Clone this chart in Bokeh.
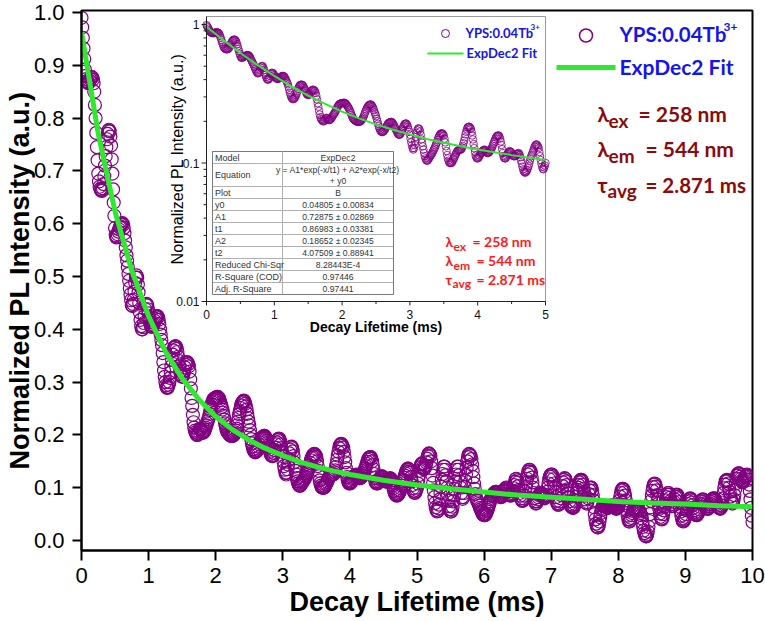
import math
import numpy as np
from bokeh.plotting import figure
from bokeh.models import Range1d, LogScale, Label, FixedTicker, NumeralTickFormatter
from bokeh.core.properties import value
from bokeh.embed import file_html
from bokeh.resources import INLINE

# ---------------- data ----------------
t_start = 0.0
t_step = 0.01
pl_values = [
    0.990, 0.972, 0.952, 0.932, 0.912, 0.892, 0.880, 0.874, 0.870, 0.868,
    0.866, 0.867, 0.871, 0.874, 0.876, 0.878, 0.877, 0.873, 0.866, 0.850,
    0.825, 0.800, 0.772, 0.745, 0.720, 0.695, 0.680, 0.670, 0.666, 0.664,
    0.662, 0.663, 0.667, 0.675, 0.690, 0.710, 0.728, 0.745, 0.760, 0.770,
    0.776, 0.778, 0.775, 0.765, 0.748, 0.722, 0.695, 0.665, 0.640, 0.615,
    0.592, 0.578, 0.574, 0.576, 0.580, 0.585, 0.589, 0.593, 0.595, 0.598,
    0.600, 0.601, 0.598, 0.592, 0.582, 0.568, 0.555, 0.540, 0.530, 0.518,
    0.505, 0.492, 0.478, 0.466, 0.455, 0.446, 0.444, 0.448, 0.456, 0.472,
    0.488, 0.498, 0.502, 0.498, 0.485, 0.470, 0.450, 0.432, 0.418, 0.406,
    0.400, 0.400, 0.404, 0.412, 0.425, 0.438, 0.446, 0.448, 0.446, 0.438,
    0.430, 0.422, 0.414, 0.408, 0.405, 0.405, 0.406, 0.409, 0.412, 0.416,
    0.420, 0.423, 0.425, 0.425, 0.423, 0.418, 0.410, 0.400, 0.390, 0.380,
    0.370, 0.355, 0.338, 0.322, 0.310, 0.300, 0.294, 0.290, 0.289, 0.291,
    0.295, 0.300, 0.308, 0.318, 0.330, 0.342, 0.352, 0.360, 0.365, 0.367,
    0.368, 0.367, 0.363, 0.357, 0.348, 0.340, 0.330, 0.321, 0.315, 0.311,
    0.310, 0.311, 0.315, 0.321, 0.328, 0.333, 0.337, 0.338, 0.337, 0.334,
    0.330, 0.320, 0.305, 0.288, 0.270, 0.255, 0.238, 0.224, 0.214, 0.208,
    0.205, 0.202, 0.200, 0.200, 0.203, 0.207, 0.211, 0.212, 0.210, 0.207,
    0.205, 0.204, 0.205, 0.207, 0.210, 0.214, 0.218, 0.222, 0.226, 0.230,
    0.234, 0.240, 0.247, 0.253, 0.258, 0.262, 0.266, 0.268, 0.269, 0.270,
    0.270, 0.271, 0.272, 0.272, 0.271, 0.269, 0.266, 0.261, 0.257, 0.253,
    0.248, 0.242, 0.236, 0.229, 0.222, 0.216, 0.210, 0.207, 0.205, 0.203,
    0.202, 0.200, 0.199, 0.198, 0.198, 0.198, 0.199, 0.200, 0.202, 0.205,
    0.208, 0.212, 0.218, 0.225, 0.232, 0.239, 0.245, 0.251, 0.256, 0.260,
    0.262, 0.264, 0.265, 0.263, 0.259, 0.254, 0.248, 0.240, 0.232, 0.225,
    0.218, 0.209, 0.200, 0.192, 0.184, 0.178, 0.173, 0.170, 0.168, 0.167,
    0.168, 0.169, 0.171, 0.174, 0.178, 0.182, 0.186, 0.190, 0.193, 0.195,
    0.196, 0.197, 0.198, 0.198, 0.196, 0.193, 0.189, 0.185, 0.180, 0.176,
    0.172, 0.168, 0.164, 0.161, 0.160, 0.160, 0.162, 0.166, 0.171, 0.176,
    0.182, 0.186, 0.190, 0.192, 0.193, 0.192, 0.188, 0.182, 0.175, 0.168,
    0.160, 0.150, 0.141, 0.134, 0.128, 0.125, 0.128, 0.135, 0.144, 0.154,
    0.165, 0.172, 0.177, 0.178, 0.175, 0.169, 0.160, 0.148, 0.140, 0.132,
    0.125, 0.118, 0.112, 0.108, 0.105, 0.104, 0.104, 0.106, 0.108, 0.110,
    0.112, 0.114, 0.116, 0.118, 0.121, 0.124, 0.127, 0.130, 0.134, 0.138,
    0.142, 0.147, 0.152, 0.156, 0.159, 0.162, 0.163, 0.164, 0.163, 0.161,
    0.158, 0.150, 0.141, 0.132, 0.122, 0.114, 0.108, 0.104, 0.101, 0.100,
    0.100, 0.100, 0.101, 0.103, 0.106, 0.108, 0.111, 0.114, 0.117, 0.119,
    0.122, 0.123, 0.124, 0.124, 0.125, 0.125, 0.126, 0.129, 0.133, 0.139,
    0.145, 0.153, 0.161, 0.168, 0.175, 0.180, 0.182, 0.183, 0.182, 0.179,
    0.176, 0.168, 0.158, 0.148, 0.137, 0.128, 0.120, 0.113, 0.110, 0.108,
    0.108, 0.109, 0.111, 0.113, 0.116, 0.118, 0.120, 0.122, 0.123, 0.124,
    0.125, 0.124, 0.122, 0.120, 0.118, 0.118, 0.119, 0.120, 0.122, 0.124,
    0.126, 0.129, 0.133, 0.137, 0.141, 0.145, 0.149, 0.153, 0.156, 0.157,
    0.158, 0.158, 0.155, 0.150, 0.143, 0.135, 0.126, 0.118, 0.112, 0.109,
    0.108, 0.108, 0.110, 0.113, 0.116, 0.118, 0.120, 0.122, 0.121, 0.120,
    0.118, 0.115, 0.113, 0.112, 0.112, 0.112, 0.113, 0.115, 0.116, 0.117,
    0.118, 0.117, 0.114, 0.110, 0.104, 0.099, 0.094, 0.090, 0.087, 0.086,
    0.085, 0.086, 0.087, 0.089, 0.092, 0.095, 0.099, 0.104, 0.108, 0.112,
    0.115, 0.119, 0.123, 0.127, 0.131, 0.134, 0.136, 0.136, 0.134, 0.131,
    0.128, 0.120, 0.112, 0.105, 0.099, 0.094, 0.091, 0.090, 0.093, 0.096,
    0.100, 0.108, 0.116, 0.124, 0.132, 0.139, 0.144, 0.146, 0.144, 0.139,
    0.135, 0.136, 0.138, 0.142, 0.148, 0.155, 0.160, 0.164, 0.165, 0.163,
    0.160, 0.150, 0.137, 0.123, 0.109, 0.095, 0.082, 0.071, 0.063, 0.058,
    0.055, 0.056, 0.061, 0.068, 0.078, 0.090, 0.102, 0.115, 0.126, 0.134,
    0.140, 0.140, 0.134, 0.124, 0.112, 0.100, 0.088, 0.075, 0.065, 0.059,
    0.055, 0.055, 0.058, 0.064, 0.074, 0.085, 0.098, 0.112, 0.125, 0.134,
    0.140, 0.140, 0.134, 0.124, 0.112, 0.100, 0.090, 0.082, 0.079, 0.082,
    0.090, 0.101, 0.113, 0.125, 0.138, 0.150, 0.158, 0.163, 0.164, 0.162,
    0.160, 0.154, 0.144, 0.132, 0.120, 0.108, 0.098, 0.088, 0.081, 0.077,
    0.075, 0.072, 0.069, 0.066, 0.062, 0.059, 0.056, 0.053, 0.050, 0.049,
    0.048, 0.048, 0.049, 0.051, 0.055, 0.058, 0.062, 0.066, 0.070, 0.074,
    0.078, 0.081, 0.084, 0.086, 0.088, 0.090, 0.091, 0.092, 0.092, 0.091,
    0.090, 0.088, 0.086, 0.084, 0.083, 0.082, 0.083, 0.086, 0.089, 0.092,
    0.095, 0.097, 0.099, 0.100, 0.099, 0.096, 0.093, 0.089, 0.087, 0.086,
    0.085, 0.087, 0.090, 0.094, 0.099, 0.105, 0.111, 0.116, 0.117, 0.114,
    0.110, 0.103, 0.096, 0.090, 0.085, 0.080, 0.077, 0.075, 0.076, 0.080,
    0.085, 0.093, 0.101, 0.109, 0.117, 0.125, 0.131, 0.134, 0.134, 0.131,
    0.128, 0.119, 0.110, 0.100, 0.090, 0.080, 0.074, 0.070, 0.071, 0.074,
    0.078, 0.082, 0.086, 0.088, 0.090, 0.090, 0.088, 0.085, 0.083, 0.081,
    0.080, 0.081, 0.083, 0.086, 0.092, 0.100, 0.108, 0.116, 0.121, 0.124,
    0.125, 0.125, 0.122, 0.116, 0.108, 0.100, 0.091, 0.082, 0.075, 0.071,
    0.068, 0.068, 0.070, 0.074, 0.080, 0.086, 0.094, 0.103, 0.110, 0.115,
    0.118, 0.117, 0.112, 0.105, 0.097, 0.089, 0.081, 0.074, 0.069, 0.066,
    0.065, 0.063, 0.062, 0.062, 0.065, 0.069, 0.075, 0.083, 0.090, 0.096,
    0.100, 0.105, 0.110, 0.113, 0.115, 0.115, 0.112, 0.106, 0.098, 0.091,
    0.085, 0.078, 0.072, 0.070, 0.073, 0.080, 0.088, 0.095, 0.099, 0.100,
    0.100, 0.094, 0.086, 0.076, 0.063, 0.050, 0.040, 0.032, 0.027, 0.025,
    0.025, 0.029, 0.036, 0.044, 0.052, 0.058, 0.062, 0.065, 0.066, 0.066,
    0.066, 0.065, 0.064, 0.063, 0.062, 0.062, 0.063, 0.064, 0.065, 0.066,
    0.066, 0.066, 0.065, 0.064, 0.063, 0.062, 0.061, 0.060, 0.061, 0.062,
    0.064, 0.069, 0.076, 0.083, 0.090, 0.095, 0.098, 0.098, 0.096, 0.091,
    0.085, 0.076, 0.066, 0.056, 0.047, 0.040, 0.036, 0.036, 0.039, 0.043,
    0.048, 0.052, 0.056, 0.059, 0.061, 0.062, 0.062, 0.061, 0.060, 0.059,
    0.058, 0.057, 0.055, 0.052, 0.048, 0.042, 0.034, 0.026, 0.019, 0.014,
    0.010, 0.008, 0.008, 0.011, 0.017, 0.026, 0.037, 0.050, 0.063, 0.075,
    0.085, 0.094, 0.101, 0.106, 0.108, 0.107, 0.102, 0.095, 0.086, 0.077,
    0.070, 0.060, 0.051, 0.045, 0.041, 0.040, 0.043, 0.050, 0.057, 0.064,
    0.070, 0.076, 0.082, 0.087, 0.090, 0.090, 0.087, 0.081, 0.075, 0.069,
    0.065, 0.066, 0.069, 0.073, 0.078, 0.083, 0.086, 0.087, 0.086, 0.083,
    0.080, 0.073, 0.064, 0.055, 0.047, 0.041, 0.037, 0.036, 0.038, 0.041,
    0.045, 0.050, 0.057, 0.063, 0.069, 0.074, 0.078, 0.080, 0.079, 0.076,
    0.072, 0.067, 0.062, 0.057, 0.053, 0.050, 0.048, 0.048, 0.050, 0.052,
    0.055, 0.059, 0.064, 0.069, 0.074, 0.077, 0.078, 0.077, 0.074, 0.071,
    0.068, 0.065, 0.062, 0.060, 0.060, 0.062, 0.065, 0.069, 0.073, 0.076,
    0.078, 0.079, 0.080, 0.080, 0.078, 0.075, 0.072, 0.069, 0.066, 0.064,
    0.062, 0.061, 0.060, 0.062, 0.066, 0.072, 0.080, 0.090, 0.099, 0.106,
    0.112, 0.114, 0.115, 0.113, 0.108, 0.100, 0.092, 0.083, 0.077, 0.073,
    0.070, 0.072, 0.078, 0.086, 0.096, 0.108, 0.117, 0.123, 0.126, 0.127,
    0.127, 0.125, 0.121, 0.117, 0.113, 0.110, 0.111, 0.114, 0.117, 0.120,
    0.122, 0.124, 0.125, 0.122, 0.115, 0.106, 0.094, 0.078, 0.062, 0.047,
    0.035,
]

fit_t = [0.0, 0.25, 0.5, 0.75, 1.0, 1.25, 1.5, 1.75, 2.0, 2.25, 2.5, 2.75, 3.0,
         3.25, 3.5, 3.75, 4.0, 4.5, 5.0, 5.5, 6.0, 6.5, 7.0, 7.5, 8.0, 8.5,
         9.0, 9.5, 10.0]
fit_v = [0.963, 0.770, 0.623, 0.511, 0.425, 0.358, 0.307, 0.267, 0.235, 0.210,
         0.190, 0.174, 0.161, 0.149, 0.140, 0.132, 0.125, 0.114, 0.105, 0.098,
         0.092, 0.086, 0.082, 0.078, 0.074, 0.071, 0.069, 0.066, 0.064]

x_ticks = [0, 1, 2, 3, 4, 5, 6, 7, 8, 9, 10]
y_ticks = [0.0, 0.1, 0.2, 0.3, 0.4, 0.5, 0.6, 0.7, 0.8, 0.9, 1.0]
inset_x_ticks = [0, 1, 2, 3, 4, 5]
inset_x_minor = [0.5, 1.5, 2.5, 3.5, 4.5]
inset_y_ticks = [0.01, 0.1, 1.0]
inset_y_labels = ["0.01", "0.1", "1"]

table_names = ["Model", "Equation", "Plot", "y0", "A1", "t1", "A2", "t2",
               "Reduced Chi-Sqr", "R-Square (COD)", "Adj. R-Square"]
table_values = ["ExpDec2", "y = A1*exp(-x/t1) + A2*exp(-x/t2)", "B",
                "0.04805 \u00b1 0.00834", "0.72875 \u00b1 0.02869",
                "0.86983 \u00b1 0.03381", "0.18652 \u00b1 0.02345",
                "4.07509 \u00b1 0.88941", "8.28443E-4", "0.97446", "0.97441"]
table_eq_line2 = "+ y0"

# ---------------- style / geometry (canvas px) ----------------
PURPLE = "#800080"
GREEN = "#2eea2e"
BLUE = "#1414f0"
DARKRED = "#8b0a0a"
RED = "#ff1a1a"
FONT = "Liberation Sans"
LFONT = "Lato"

W, H = 765, 621
FL, FR, FT, FB = 81, 752, 10, 550          # main frame
IX0, IX1 = 206, 545                         # inset x: t=0 and t=5
IY1, IY001 = 24, 301                        # inset y: v=1 and v=0.01
ITOP = 16

t_vals = np.round(t_start + t_step * np.arange(len(pl_values)), 4)

p = figure(width=W, height=H, output_backend="svg", toolbar_location=None,
           x_range=Range1d(0, 10), y_range=Range1d(-0.0189, 1.0038),
           min_border_left=FL, min_border_right=W - FR,
           min_border_top=FT, min_border_bottom=H - FB)
p.title = None
p.grid.visible = False
p.outline_line_color = "black"
p.outline_line_width = 2
p.background_fill_color = "white"
p.border_fill_color = "white"

for ax in (p.xaxis[0], p.yaxis[0]):
    ax.axis_line_width = 2
    ax.major_tick_line_width = 2
    ax.major_tick_in = 0
    ax.minor_tick_line_color = None
    ax.major_label_text_font = FONT
    ax.major_label_text_font_size = "22px"
    ax.major_label_text_color = "black"
    ax.axis_label_text_font = FONT
    ax.axis_label_text_font_style = "bold"
    ax.axis_label_text_font_size = "27px"
    ax.axis_label_text_color = "black"
p.xaxis.ticker = FixedTicker(ticks=x_ticks, minor_ticks=[])
p.yaxis.ticker = FixedTicker(ticks=y_ticks, minor_ticks=[])
p.yaxis.formatter = NumeralTickFormatter(format="0.0")
p.xaxis.major_tick_out = 10
p.yaxis.major_tick_out = 9
p.xaxis.major_label_standoff = 7
p.yaxis.major_label_standoff = 8
p.xaxis.axis_label = "Decay Lifetime (ms)"
p.yaxis.axis_label = "Normalized PL Intensity (a.u.)"
p.xaxis.axis_label_standoff = 1
p.yaxis.axis_label_standoff = -4

# pixel-space helper ranges
p.extra_x_ranges = {"px": Range1d(FL, FR)}
p.extra_y_ranges = {"px": Range1d(FB, FT)}
# inset data ranges
sx = (IX1 - IX0) / 5.0
sy = (IY001 - IY1) / 2.0
p.extra_x_ranges["ix"] = Range1d((FL - IX0) / sx, (FR - IX0) / sx)
p.extra_y_ranges["iy"] = Range1d(10 ** (-(FB - IY1) / sy), 10 ** ((IY1 - FT) / sy))
p.extra_y_scales = {"iy": LogScale()}

PX = dict(x_range_name="px", y_range_name="px")

# ---------------- main data ----------------
p.scatter(t_vals, pl_values, marker="circle", size=13, fill_color=None,
          line_color=PURPLE, line_width=1.2)
p.line(fit_t, fit_v, line_color=GREEN, line_width=5)

# ---------------- inset ----------------
p.quad(left=[IX0], right=[IX1], top=[ITOP], bottom=[IY001], fill_color="white",
       line_color="#9a9a9a", line_width=1, **PX)
mask = t_vals <= 5.0
p.scatter(t_vals[mask], np.array(pl_values)[mask], marker="circle", size=7.5,
          fill_color=None, line_color=PURPLE, line_width=0.8,
          x_range_name="ix", y_range_name="iy")
fmask = [i for i, tt in enumerate(fit_t) if tt <= 5.0]
p.line([fit_t[i] for i in fmask], [fit_v[i] for i in fmask], line_color=GREEN,
       line_width=2, x_range_name="ix", y_range_name="iy")

def ipx(t):
    return IX0 + sx * t

def ipy(v):
    return IY1 - sy * math.log10(v)

# inset axes lines
p.segment(x0=[IX0, IX0], y0=[IY001, IY001], x1=[IX1, IX0], y1=[IY001, ITOP],
          line_color="#222222", line_width=1, **PX)
xt0 = [ipx(t) for t in inset_x_ticks] + [ipx(t) for t in inset_x_minor]
xt1 = [IY001 + 4] * len(inset_x_ticks) + [IY001 + 2.5] * len(inset_x_minor)
p.segment(x0=xt0, y0=[IY001] * len(xt0), x1=xt0, y1=xt1, line_color="#222222",
          line_width=1, **PX)
ymaj = [ipy(v) for v in inset_y_ticks]
ymin = []
for dec in [0.01, 0.1]:
    for m in range(2, 10):
        ymin.append(ipy(dec * m))
p.segment(x0=[IX0] * len(ymaj), y0=ymaj, x1=[IX0 - 5] * len(ymaj), y1=ymaj,
          line_color="#222222", line_width=1, **PX)
p.segment(x0=[IX0] * len(ymin), y0=ymin, x1=[IX0 - 3] * len(ymin), y1=ymin,
          line_color="#222222", line_width=1, **PX)
p.text(x=[ipx(t) for t in inset_x_ticks], y=[IY001 + 8] * len(inset_x_ticks),
       text=[str(t) for t in inset_x_ticks], text_font=value(FONT),
       text_font_size=value("12px"), text_align="center", text_baseline="top",
       text_color="#111111", **PX)
p.text(x=[IX0 - 7] * len(inset_y_ticks), y=ymaj, text=inset_y_labels,
       text_font=value(FONT), text_font_size=value("12px"), text_align="right",
       text_baseline="middle", text_color="#111111", **PX)

def lab(x, y, text, size, color, style="bold", font=LFONT, baseline="middle",
        align="left", angle=0.0):
    p.add_layout(Label(x=x, y=y, text=text, text_font=font, text_font_style=style,
                       text_font_size=size, text_color=color, text_baseline=baseline,
                       text_align=align, angle=angle, **PX))

lab((IX0 + IX1) / 2, 326, "Decay Lifetime (ms)", "14px", "black", font=FONT,
    align="center")
lab(177, (ITOP + IY001) / 2, "Normalized PL Intensity (a.u.)", "16px", "black",
    style="normal", font=FONT, align="center", angle=math.pi / 2)

# inset table
TL, TM, TR, TT = 212, 282, 393, 151
row_h = [12, 23, 12, 12, 12, 12, 12, 12, 12, 12, 12]
tops, bots = [], []
yy = TT
for h in row_h:
    tops.append(yy)
    bots.append(yy + h)
    yy += h
p.quad(left=[TL] * len(row_h), right=[TR] * len(row_h), top=tops, bottom=bots,
       fill_color="white", line_color="#b0b0b0", line_width=1, **PX)
p.quad(left=[TL], right=[TR], top=[tops[0]], bottom=[bots[-1]], fill_color=None,
       line_color="#7a7a7a", line_width=1, **PX)
p.segment(x0=[TM], y0=[tops[0]], x1=[TM], y1=[bots[-1]], line_color="#b0b0b0",
          line_width=1, **PX)
mids = [(a + b) / 2 for a, b in zip(tops, bots)]
p.text(x=[TL + 2.5] * len(table_names), y=mids, text=table_names,
       text_font=value(FONT), text_font_size=value("9px"), text_align="left",
       text_baseline="middle", text_color="#333333", **PX)
vy = list(mids)
vy[1] = tops[1] + 6
p.text(x=[(TM + TR) / 2] * len(table_values), y=vy, text=table_values,
       text_font=value(FONT), text_font_size=value("8.6px"), text_align="center",
       text_baseline="middle", text_color="#333333", **PX)
p.text(x=[(TM + TR) / 2], y=[tops[1] + 17], text=[table_eq_line2],
       text_font=value(FONT), text_font_size=value("8.6px"), text_align="center",
       text_baseline="middle", text_color="#333333", **PX)

# inset legend
p.scatter(x=[445], y=[33], marker="circle", size=8, fill_color=None,
          line_color=PURPLE, line_width=1, **PX)
p.line(x=[427, 463], y=[53, 53], line_color=GREEN, line_width=2, **PX)
lab(465, 32, "YPS:0.04Tb", "13px", BLUE)
lab(530, 26, "3+", "8px", BLUE)
lab(466, 52, "ExpDec2 Fit", "13px", BLUE)

# inset annotations (red)
lab(445, 241, "\u03bb", "14px", RED, baseline="alphabetic")
lab(453, 246, "ex", "12px", RED, baseline="alphabetic")
lab(472, 241, "= 258 nm", "14px", RED, baseline="alphabetic")
lab(445, 260, "\u03bb", "14px", RED, baseline="alphabetic")
lab(453, 265, "em", "12px", RED, baseline="alphabetic")
lab(476, 260, "= 544 nm", "14px", RED, baseline="alphabetic")
lab(445, 279, "\u03c4", "14px", RED, baseline="alphabetic")
lab(452, 283, "avg", "12px", RED, baseline="alphabetic")
lab(476, 279, "= 2.871 ms", "14px", RED, baseline="alphabetic")

# ---------------- main legend & annotations ----------------
p.scatter(x=[585.5], y=[35], marker="circle", size=13, fill_color=None,
          line_color=PURPLE, line_width=1.5, **PX)
p.line(x=[556, 615], y=[67, 67], line_color=GREEN, line_width=5, **PX)
lab(619, 33, "YPS:0.04Tb", "20.5px", BLUE)
lab(723, 26, "3+", "12px", BLUE)
lab(619, 66, "ExpDec2 Fit", "21px", BLUE)

lab(597, 113, "\u03bb", "21px", DARKRED, baseline="alphabetic")
lab(608, 120, "ex", "19px", DARKRED, baseline="alphabetic")
lab(638, 113, "= 258 nm", "21px", DARKRED, baseline="alphabetic")
lab(597, 148, "\u03bb", "21px", DARKRED, baseline="alphabetic")
lab(608, 155, "em", "19px", DARKRED, baseline="alphabetic")
lab(645, 148, "= 544 nm", "21px", DARKRED, baseline="alphabetic")
lab(597, 184, "\u03c4", "21px", DARKRED, baseline="alphabetic")
lab(607, 190, "avg", "19px", DARKRED, baseline="alphabetic")
lab(645, 184, "= 2.871 ms", "20.5px", DARKRED, baseline="alphabetic")

open("out.html", "w").write(file_html(p, INLINE))
